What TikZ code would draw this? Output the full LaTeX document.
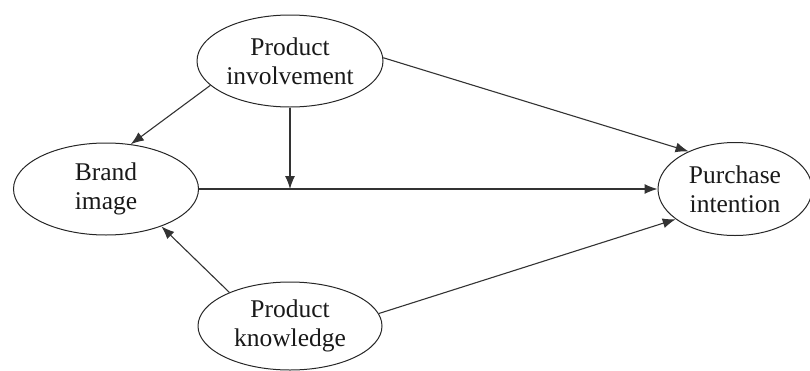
\documentclass[tikz,border=0pt]{standalone}
\usepackage{fontspec}
\setmainfont{Liberation Serif}
\usetikzlibrary{arrows.meta,shapes.geometric}
\begin{document}
\begin{tikzpicture}[x=1pt,y=-1pt,
  construct/.style={draw=black!85,line width=1pt,ellipse,inner sep=0pt,align=center,
    font=\fontsize{25.5}{29}\selectfont,text=black!90},
  link/.style={draw=black!80,line width=1.1pt,-{Latex[length=13pt,width=10pt]}}]
\useasboundingbox (0,0) rectangle (810,370);
\node[construct,minimum width=186pt,minimum height=92pt] (inv) at (290,61) {Product\\involvement};
\node[construct,minimum width=185pt,minimum height=92pt] (brand) at (106,189) {Brand\\image};
\node[construct,minimum width=154pt,minimum height=93pt] (pur) at (735,189) {Purchase\\intention};
\node[construct,minimum width=184pt,minimum height=88pt] (know) at (290,326) {Product\\knowledge};
\draw[link] (inv.197) -- (brand.61);
\draw[link] (inv.2) -- (pur.141);
\draw[link] (brand.east) -- (pur.west);
\draw[link] (inv.south) -- (inv.south |- brand.east);
\draw[link] (know.151) -- (brand.-34);
\draw[link] (know.8) -- (pur.207);
\end{tikzpicture}
\end{document}
